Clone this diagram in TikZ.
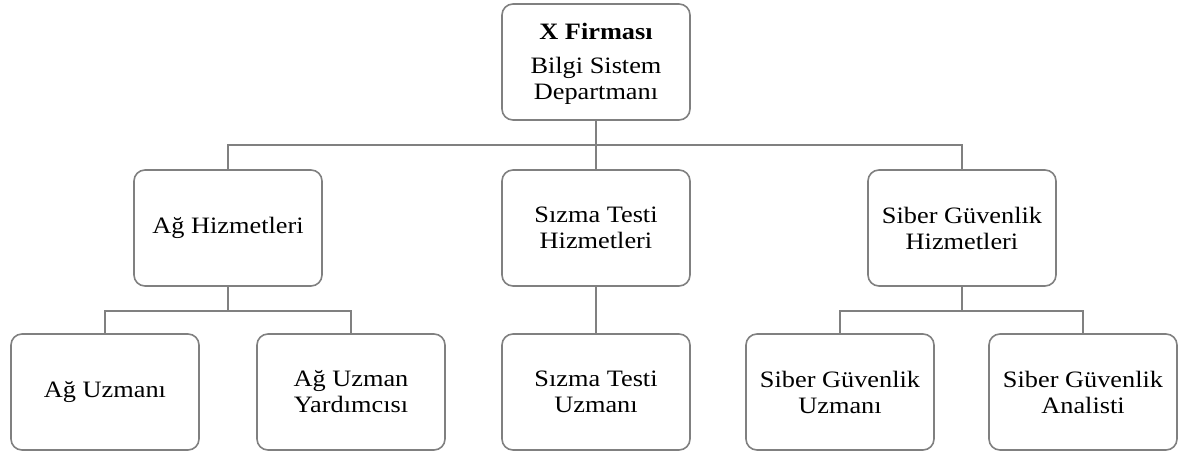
\documentclass[tikz,border=0pt]{standalone}
\usepackage{fontspec}
\setmainfont{Liberation Serif}[FakeStretch=1.12]
\definecolor{boxgray}{RGB}{128,128,128}
\tikzset{
  orgbox/.style={draw=boxgray, line width=1.6pt, rounded corners=11pt, minimum width=188pt, minimum height=116pt, align=center, font=\fontsize{23.5}{26}\selectfont, inner sep=0pt, text=black},
  link/.style={draw=boxgray, line width=1.6pt}
}
\begin{document}
\begin{tikzpicture}[x=1pt,y=-1pt]
\useasboundingbox (0,0) rectangle (1178,452);
\node[orgbox] (top) at (596,62) {};
\node[align=center, font=\fontsize{23.5}{26}\selectfont, inner sep=0pt] (toptext) at (596,64) {\textbf{X Firması}\\[8pt]Bilgi Sistem\\Departmanı};
\node[orgbox] (ag) at (228,228) {Ağ Hizmetleri};
\node[orgbox] (sz) at (596,228) {Sızma Testi\\Hizmetleri};
\node[orgbox] (sb) at (962,228) {Siber Güvenlik\\Hizmetleri};
\node[orgbox] (agu) at (105,392) {Ağ Uzmanı};
\node[orgbox] (agy) at (351,392) {Ağ Uzman\\Yardımcısı};
\node[orgbox] (szu) at (596,392) {Sızma Testi\\Uzmanı};
\node[orgbox] (sbu) at (840,392) {Siber Güvenlik\\Uzmanı};
\node[orgbox] (sba) at (1083,392) {Siber Güvenlik\\Analisti};
\coordinate (bus1) at (596,145);
\coordinate (bus2) at (228,311);
\coordinate (bus3) at (962,311);
\draw[link] (top.south) -- (bus1);
\draw[link] (ag.north) |- (bus1) -| (sb.north);
\draw[link] (bus1) -- (sz.north);
\draw[link] (ag.south) -- (bus2);
\draw[link] (agu.north) |- (bus2) -| (agy.north);
\draw[link] (sz.south) -- (szu.north);
\draw[link] (sb.south) -- (bus3);
\draw[link] (sbu.north) |- (bus3) -| (sba.north);
\end{tikzpicture}
\end{document}
